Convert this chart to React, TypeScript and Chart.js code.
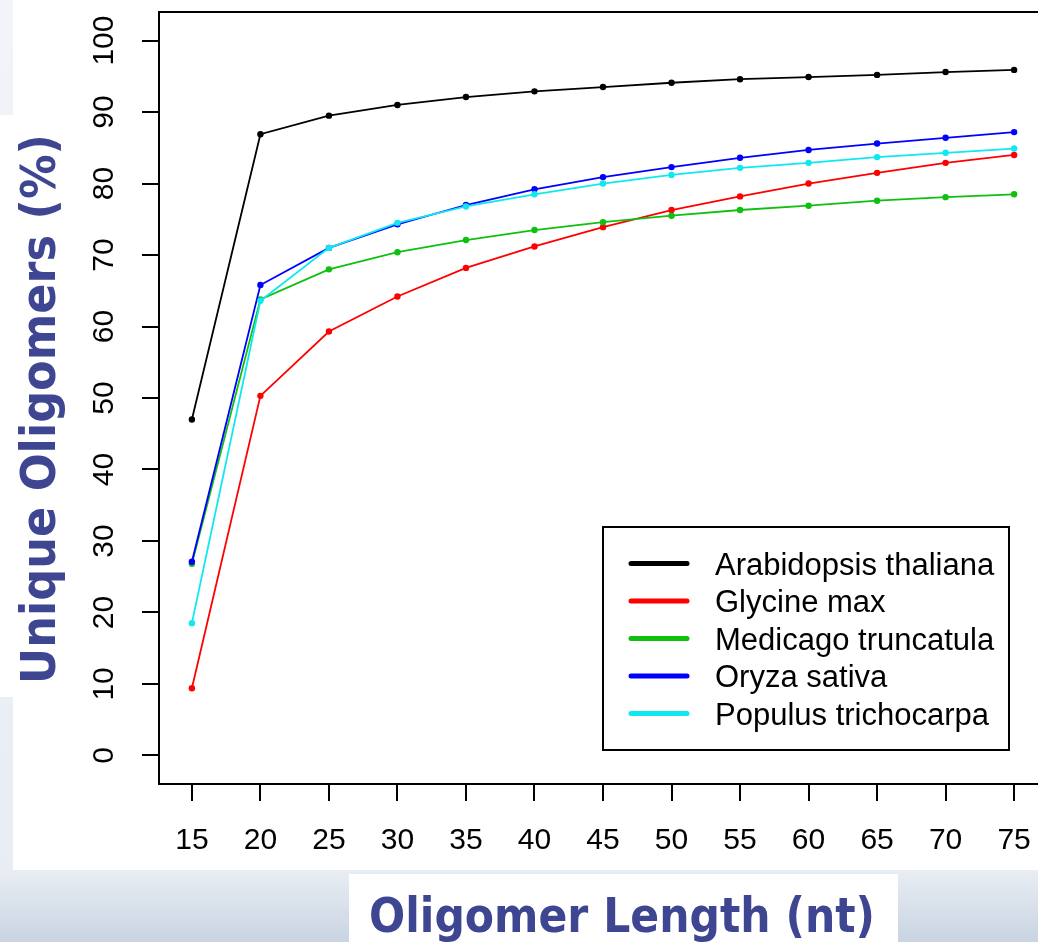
import React, { useEffect, useRef } from "react";
import { Chart, registerables } from "chart.js";

Chart.register(...registerables);

// ---- data ----
const lengths = [15, 20, 25, 30, 35, 40, 45, 50, 55, 60, 65, 70, 75];
const arabidopsis = [47.0, 86.9, 89.5, 91.0, 92.1, 92.9, 93.5, 94.1, 94.6, 94.9, 95.2, 95.6, 95.9];
const glycine = [9.4, 50.3, 59.3, 64.2, 68.2, 71.2, 73.9, 76.3, 78.2, 80.0, 81.5, 82.9, 84.0];
const medicago = [26.8, 63.8, 68.0, 70.4, 72.1, 73.5, 74.6, 75.5, 76.3, 76.9, 77.6, 78.1, 78.5];
const oryza = [27.1, 65.8, 71.0, 74.3, 77.0, 79.2, 80.9, 82.3, 83.6, 84.7, 85.6, 86.4, 87.2];
const populus = [18.5, 63.6, 71.0, 74.5, 76.8, 78.5, 80.0, 81.2, 82.2, 82.9, 83.7, 84.3, 84.9];

const seriesNames = [
  "Arabidopsis thaliana",
  "Glycine max",
  "Medicago truncatula",
  "Oryza sativa",
  "Populus trichocarpa",
];
const seriesValues = [arabidopsis, glycine, medicago, oryza, populus];
const seriesColors = ["#000000", "#ff0000", "#10c010", "#0000ff", "#10e8f0"];

const xTicks = [15, 20, 25, 30, 35, 40, 45, 50, 55, 60, 65, 70, 75];
const yTicks = [0, 10, 20, 30, 40, 50, 60, 70, 80, 90, 100];
const xTitle = "Oligomer Length (nt)";
const yTitle = "Unique Oligomers (%)";

// ---- layout / style ----
const W = 1060;
const H = 942;
const TITLE_COLOR = "#3f4691";
const TICK_FONT = '"Liberation Sans", Arial, sans-serif';
const TITLE_FONT = '"DejaVu Sans", Verdana, sans-serif';

const pagePlugin = {
  id: "pageFrame",
  beforeDraw(chart: any) {
    const ctx = chart.ctx;
    ctx.save();
    const g = ctx.createLinearGradient(0, 0, 0, H);
    g.addColorStop(0, "#f1f4f8");
    g.addColorStop(0.9, "#e9eef4");
    g.addColorStop(0.925, "#e8edf3");
    g.addColorStop(1, "#c9d4e1");
    ctx.fillStyle = g;
    ctx.fillRect(0, 0, chart.width, chart.height);
    ctx.fillStyle = "#ffffff";
    ctx.fillRect(13, 0, chart.width - 13, 870);
    ctx.fillRect(0, 115, 13, 582);
    ctx.fillRect(349, 874, 549, 68);
    ctx.restore();
  },
  beforeDatasetsDraw(chart: any) {
    const { left, top, right, bottom } = chart.chartArea;
    const ctx = chart.ctx;
    ctx.save();
    ctx.strokeStyle = "#000";
    ctx.lineWidth = 2;
    ctx.strokeRect(left, top, right - left, bottom - top);
    ctx.restore();
  },
  afterDatasetsDraw(chart: any) {
    const ctx = chart.ctx;
    ctx.save();
    // legend box
    const bx = 603, by = 527, bw = 406, bh = 223;
    ctx.fillStyle = "#fff";
    ctx.fillRect(bx, by, bw, bh);
    ctx.strokeStyle = "#000";
    ctx.lineWidth = 2;
    ctx.strokeRect(bx, by, bw, bh);
    chart.data.datasets.forEach((ds: any, i: number) => {
      const y = 563.5 + i * 37.5;
      ctx.strokeStyle = ds.borderColor;
      ctx.lineWidth = 5;
      ctx.lineCap = "round";
      ctx.beginPath();
      ctx.moveTo(631, y);
      ctx.lineTo(687, y);
      ctx.stroke();
      ctx.fillStyle = "#000";
      ctx.font = `31px ${TICK_FONT}`;
      ctx.textAlign = "left";
      ctx.textBaseline = "alphabetic";
      ctx.fillText(ds.label, 715, y + 11);
    });
    ctx.restore();
  },
  afterDraw(chart: any) {
    const ctx = chart.ctx;
    ctx.save();
    ctx.fillStyle = TITLE_COLOR;
    ctx.font = `bold 48px ${TITLE_FONT}`;
    ctx.textAlign = "left";
    ctx.textBaseline = "alphabetic";
    // x title
    let w = ctx.measureText(xTitle).width;
    ctx.save();
    ctx.translate(369, 932);
    ctx.scale(506 / w, 1);
    ctx.fillText(xTitle, 0, 0);
    ctx.restore();
    // y title
    w = ctx.measureText(yTitle).width;
    ctx.save();
    ctx.translate(55, 684);
    ctx.rotate(-Math.PI / 2);
    ctx.scale(550 / w, 1);
    ctx.fillText(yTitle, 0, 0);
    ctx.restore();
    ctx.restore();
  },
};

export default function App() {
  const ref = useRef<HTMLCanvasElement | null>(null);

  useEffect(() => {
    if (!ref.current) return;
    const datasets = seriesNames.map((name, i) => ({
      label: name,
      data: lengths.map((x, j) => ({ x, y: seriesValues[i][j] })),
      borderColor: seriesColors[i],
      backgroundColor: seriesColors[i],
      pointBackgroundColor: seriesColors[i],
      pointBorderColor: seriesColors[i],
      pointBorderWidth: 0,
      pointRadius: 3.2,
      borderWidth: 1.8,
      tension: 0,
      fill: false,
      order: seriesNames.length - i,
    }));

    const chart = new Chart(ref.current, {
      type: "line",
      data: { datasets },
      plugins: [pagePlugin],
      options: {
        animation: false,
        responsive: false,
        devicePixelRatio: 1,
        layout: { padding: { left: 0, top: 12, right: 13, bottom: 0 } },
        plugins: {
          legend: { display: false },
          tooltip: { enabled: false },
          title: { display: false },
        },
        scales: {
          x: {
            type: "linear",
            min: 12.6,
            max: 77.4,
            afterBuildTicks: (s: any) => {
              s.ticks = xTicks.map((v) => ({ value: v }));
            },
            afterFit: (s: any) => {
              s.height = H - 784;
              s.paddingLeft = 0;
              s.paddingRight = 0;
            },
            ticks: {
              autoSkip: false,
              maxRotation: 0,
              minRotation: 0,
              padding: 22,
              color: "#000",
              font: { family: TICK_FONT, size: 30 },
            },
            grid: {
              display: true,
              drawOnChartArea: false,
              drawTicks: true,
              tickLength: 17,
              tickWidth: 2,
              tickColor: "#000",
              color: "#000",
              lineWidth: 2,
            },
            border: { display: false },
          },
          y: {
            type: "linear",
            min: -4,
            max: 104,
            afterBuildTicks: (s: any) => {
              s.ticks = yTicks.map((v) => ({ value: v }));
            },
            afterFit: (s: any) => {
              s.width = 159;
              s.paddingTop = 0;
              s.paddingBottom = 0;
            },
            ticks: {
              autoSkip: false,
              minRotation: 90,
              maxRotation: 90,
              crossAlign: "center",
              padding: 12,
              color: "#000",
              font: { family: TICK_FONT, size: 30 },
            },
            grid: {
              display: true,
              drawOnChartArea: false,
              drawTicks: true,
              tickLength: 17,
              tickWidth: 2,
              tickColor: "#000",
              color: "#000",
              lineWidth: 2,
            },
            border: { display: false },
          },
        },
      } as any,
    });
    return () => chart.destroy();
  }, []);

  return (
    <div
      style={{
        position: "fixed",
        left: 0,
        top: 0,
        width: 1038,
        height: 942,
        overflow: "hidden",
        background: "#eef2f6",
      }}
    >
      <canvas ref={ref} width={W} height={H} style={{ display: "block", width: W, height: H }} />
    </div>
  );
}
